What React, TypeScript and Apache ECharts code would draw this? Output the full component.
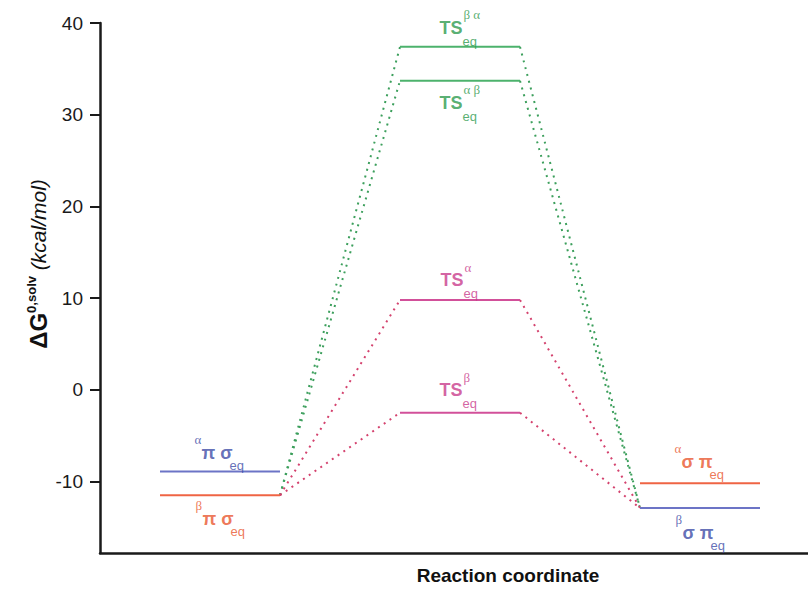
import React, { useEffect, useRef } from 'react';
import * as echarts from 'echarts';

// ---- data ----
const levelNames = ['απσ_eq', 'βπσ_eq', 'TS βα_eq', 'TS αβ_eq', 'TS α_eq', 'TS β_eq', 'ασπ_eq', 'βσπ_eq'];
const levelEnergies = [-8.9, -11.5, 37.4, 33.7, 9.8, -2.5, -10.2, -12.9];
const levelStages = [0, 0, 1, 1, 1, 1, 2, 2];
const stageStart = [0.5, 2.5, 4.5];
const stageEnd = [1.5, 3.5, 5.5];
// pathways: reactant level -> transition state level -> product level (indices into levels)
const pathways = [
  [1, 2, 7],
  [1, 3, 7],
  [1, 4, 7],
  [1, 5, 7],
];
const levelSup = ['α', 'β', 'β α', 'α β', 'α', 'β', 'α', 'β'];
const levelMain = ['π σ', 'π σ', 'TS', 'TS', 'TS', 'TS', 'σ π', 'σ π'];
const levelSub = ['eq', 'eq', 'eq', 'eq', 'eq', 'eq', 'eq', 'eq'];
const yTicks = [-10, 0, 10, 20, 30, 40];
const yMin = -17.8;
const yMax = 40;
const xMin = 0;
const xMax = 5.9;

// ---- styles ----
const GREEN = '#4cb26c';
const GREEN_DOT = '#3c9f5c';
const GREEN_TXT = '#2e9a4e';
const MAG = '#d2509a';
const MAG_DOT = '#d4426e';
const MAG_TXT = '#c93b8b';
const BLUE = '#6c74c6';
const BLUE_TXT = '#3d4ba6';
const ORANGE = '#ef6444';
const ORANGE_TXT = '#e9562e';

const levelColor = [BLUE, ORANGE, GREEN, GREEN, MAG, MAG, ORANGE, BLUE];
const labelColor = [BLUE_TXT, ORANGE_TXT, GREEN_TXT, GREEN_TXT, MAG_TXT, MAG_TXT, ORANGE_TXT, BLUE_TXT];
const pathColor = [GREEN_DOT, GREEN_DOT, MAG_DOT, MAG_DOT];
// label offsets in px relative to level centre
const labelOffset: number[][] = [
  [-25, -37],
  [-24, 5],
  [-20, -36.5],
  [-20, 4.5],
  [-19, -37],
  [-20, -40],
  [-25, -40],
  [-24, 6],
];

const SANS = 'Liberation Sans';
const SERIF = 'Liberation Serif';

function buildOption() {
  const series: any[] = [];

  // dotted connectors
  pathways.forEach((p, i) => {
    const [a, b, c] = p;
    const segs = [
      [
        [stageEnd[levelStages[a]], levelEnergies[a]],
        [stageStart[levelStages[b]], levelEnergies[b]],
      ],
      [
        [stageEnd[levelStages[b]], levelEnergies[b]],
        [stageStart[levelStages[c]], levelEnergies[c]],
      ],
    ];
    segs.forEach((d) => {
      series.push({
        type: 'line',
        data: d,
        symbol: 'none',
        silent: true,
        z: 2,
        lineStyle: { color: pathColor[i], width: 2, type: [2, 5] },
      });
    });
  });

  // levels
  levelNames.forEach((n, i) => {
    const s = levelStages[i];
    series.push({
      type: 'line',
      name: n,
      data: [
        [stageStart[s], levelEnergies[i]],
        [stageEnd[s], levelEnergies[i]],
      ],
      symbol: 'none',
      silent: true,
      z: 3,
      lineStyle: { color: levelColor[i], width: 2 },
    });
  });

  // labels
  const labelData = levelNames.map((n, i) => {
    const s = levelStages[i];
    const c = labelColor[i];
    const isTS = levelMain[i] === 'TS';
    const rich = isTS
      ? {
          sup: { fontFamily: SERIF, fontSize: 13, lineHeight: 10, color: c, padding: [0, 0, 0, 24] },
          m: { fontFamily: SANS, fontWeight: 'bold', fontSize: 18, lineHeight: 16, color: c },
          sub: { fontFamily: SANS, fontSize: 13, lineHeight: 11, color: c, padding: [0, 0, 0, 23] },
        }
      : {
          sup: { fontFamily: SERIF, fontSize: 13, lineHeight: 12, color: c },
          m: { fontFamily: SANS, fontWeight: 'bold', fontSize: 18, lineHeight: 15, color: c, padding: [0, 0, 0, 7] },
          sub: { fontFamily: SANS, fontSize: 13, lineHeight: 9, color: c, padding: [0, 0, 0, 35] },
        };
    return {
      name: n,
      value: [(stageStart[s] + stageEnd[s]) / 2, levelEnergies[i]],
      label: {
        show: true,
        position: labelOffset[i],
        formatter: `{sup|${levelSup[i]}}\n{m|${levelMain[i]}}\n{sub|${levelSub[i]}}`,
        rich,
      },
    };
  });
  series.push({
    type: 'scatter',
    data: labelData,
    symbolSize: 1,
    itemStyle: { color: 'rgba(0,0,0,0)' },
    silent: true,
    z: 4,
  });

  const axisColor = '#1a1a1a';
  return {
    animation: false,
    backgroundColor: '#ffffff',
    grid: { left: 100, right: 0, top: 23, bottom: 35 },
    xAxis: {
      type: 'value',
      min: xMin,
      max: xMax,
      axisLine: { show: true, onZero: false, lineStyle: { color: axisColor, width: 2.5 } },
      axisTick: { show: false },
      axisLabel: { show: false },
      splitLine: { show: false },
      name: 'Reaction coordinate',
      nameLocation: 'middle',
      nameGap: 13,
      nameTextStyle: {
        fontFamily: SANS,
        fontWeight: 'bold',
        fontSize: 19,
        color: '#111',
        padding: [0, 0, 0, 108],
      },
    },
    yAxis: {
      type: 'value',
      min: yMin,
      max: yMax,
      axisLine: { show: true, onZero: false, lineStyle: { color: axisColor, width: 2.5 } },
      axisTick: { show: true, length: 10, customValues: yTicks, lineStyle: { color: axisColor, width: 2 } },
      axisLabel: { customValues: yTicks, fontFamily: SANS, fontSize: 19, color: '#1a1a1a', margin: 17 },
      splitLine: { show: false },
    },
    graphic: [
      {
        type: 'text',
        x: 38,
        y: 264,
        rotation: Math.PI / 2,
        silent: true,
        style: {
          text: '{d|ΔG}{s|0,solv}{u| (kcal/mol)}',
          align: 'center',
          verticalAlign: 'middle',
          fill: '#111',
          rich: {
            d: { fontFamily: SANS, fontWeight: 'bold', fontSize: 24, lineHeight: 26, fill: '#111' },
            s: { fontFamily: SANS, fontWeight: 'bold', fontSize: 13, lineHeight: 13, verticalAlign: 'top', fill: '#111' },
            u: { fontFamily: SANS, fontStyle: 'italic', fontSize: 21, lineHeight: 26, fill: '#111' },
          },
        },
      },
    ],
    series,
  };
}

export default function App() {
  const ref = useRef<HTMLDivElement>(null);
  useEffect(() => {
    if (!ref.current) return;
    const chart = echarts.init(ref.current, null, { renderer: 'svg' });
    chart.setOption(buildOption() as any);
    return () => chart.dispose();
  }, []);
  return (
    <div
      ref={ref}
      style={{ position: 'fixed', left: 0, top: 0, width: 808, height: 590, background: '#fff' }}
    />
  );
}
